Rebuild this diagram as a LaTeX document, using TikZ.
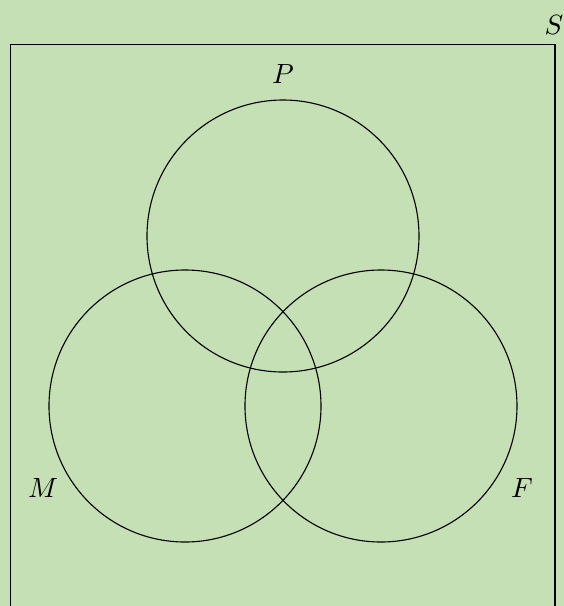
\documentclass[tikz,border=0pt]{standalone}
\definecolor{bgreen}{RGB}{197,224,180}
\begin{document}
\begin{tikzpicture}[x=0.36pt,y=-0.36pt,
  setcirc/.style={draw=black,line width=0.4pt},
  setlabel/.style={inner sep=0pt,font=\normalsize}]
\useasboundingbox (0,0) rectangle (564,606);
\clip (0,0) rectangle (564,606);
\fill[bgreen] (0,0) rectangle (564,606);
\draw[line width=0.4pt] (10.5,630) -- (10.5,44.5) -- (555,44.5) -- (555,630);
\node[setlabel] (S) at (554,25) {$S$};
\draw[setcirc] (283,236) circle [radius=136];
\draw[setcirc] (185,406) circle [radius=136];
\draw[setcirc] (381,406) circle [radius=136];
\node[setlabel] (P) at (283,73.5) {$P$};
\node[setlabel] (M) at (43,488) {$M$};
\node[setlabel] (F) at (522,488) {$F$};
\end{tikzpicture}
\end{document}
